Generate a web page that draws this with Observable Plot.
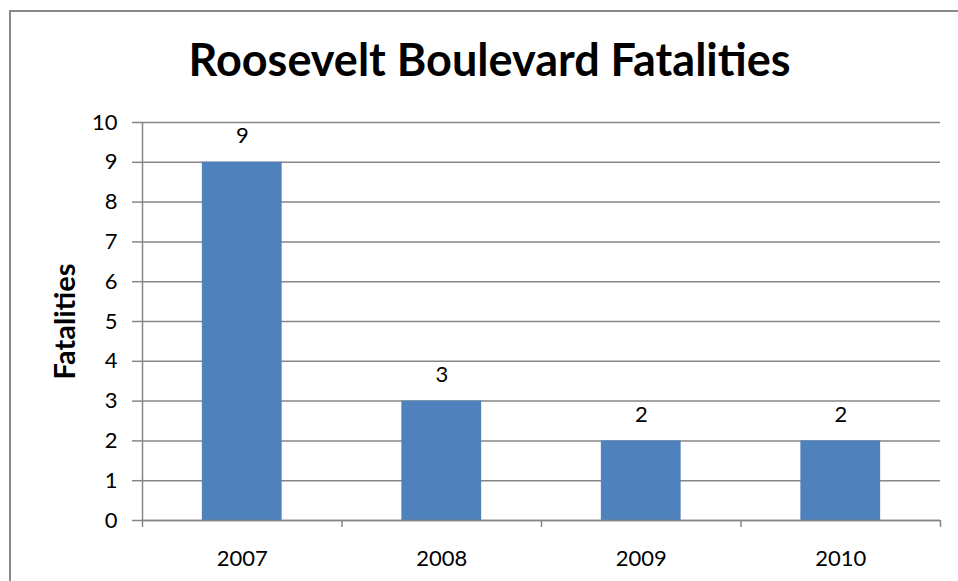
<!DOCTYPE html>
<html>
<head>
<meta charset="utf-8">
<script src="https://cdn.jsdelivr.net/npm/d3@7"></script>
<script src="https://cdn.jsdelivr.net/npm/@observablehq/plot@0.6"></script>
<style>
  html, body { margin: 0; padding: 0; background: #fff; }
  #wrap { position: relative; width: 958px; height: 581px; overflow: hidden; font-family: Lato, "Open Sans", sans-serif; }
  #border { position: absolute; left: 9px; top: 10px; width: 2000px; height: 2000px; border-left: 2px solid #8a8a8a; border-top: 2px solid #8a8a8a; }
  #title { position: absolute; left: 0; top: 37px; width: 979px; text-align: center; font-weight: bold; font-size: 45px; line-height: 1; color: #000; }
  #chart { position: absolute; left: 0; top: 0; }
</style>
</head>
<body>
<div id="wrap">
  <div id="border"></div>
  <div id="chart"></div>
  <div id="title">Roosevelt Boulevard Fatalities</div>
</div>
<script>
const years = [2007, 2008, 2009, 2010];
const fatalities = [9, 3, 2, 2];
const yTicks = [0, 1, 2, 3, 4, 5, 6, 7, 8, 9, 10];
const categoryEdges = [2006.5, 2007.5, 2008.5, 2009.5, 2010.5];
const yLabel = "Fatalities";

const data = years.map((year, i) => ({year, value: fatalities[i]}));
const gray = "#868686";

const chart = Plot.plot({
  width: 958,
  height: 581,
  marginLeft: 142,
  marginRight: 18,
  marginTop: 122,
  marginBottom: 61,
  style: {fontFamily: "Lato, 'Open Sans', sans-serif", fontSize: "22px", color: "#000", background: "transparent", overflow: "visible"},
  x: {type: "linear", domain: [categoryEdges[0], categoryEdges[categoryEdges.length - 1]]},
  y: {domain: [0, 10]},
  marks: [
    Plot.gridY(yTicks, {stroke: gray, strokeOpacity: 1, strokeWidth: 1.5}),
    Plot.rectY(data, {x1: d => d.year - 0.2, x2: d => d.year + 0.2, y: "value", fill: "#4f81bd"}),
    Plot.ruleX([categoryEdges[0]], {y1: 0, y2: 10, stroke: gray, strokeWidth: 1.5}),
    Plot.ruleY([0], {stroke: gray, strokeWidth: 1.5}),
    Plot.axisY(yTicks, {tickSize: 10, tickPadding: 15, stroke: gray, strokeWidth: 1.5, label: null, tickFormat: d => String(d)}),
    Plot.axisX(categoryEdges, {tickSize: 7, tickFormat: () => "", stroke: gray, strokeWidth: 1.5, label: null}),
    Plot.axisX(years, {tickSize: 0, tickPadding: 30, tickFormat: d => String(d), label: null}),
    Plot.text(data, {x: "year", y: "value", text: d => String(d.value), lineAnchor: "bottom", dy: -19, fontSize: 22}),
    Plot.text([yLabel], {frameAnchor: "left", textAnchor: "middle", rotate: -90, dx: -77, fontWeight: "bold", fontSize: 29})
  ]
});
document.getElementById("chart").appendChild(chart);
</script>
</body>
</html>
